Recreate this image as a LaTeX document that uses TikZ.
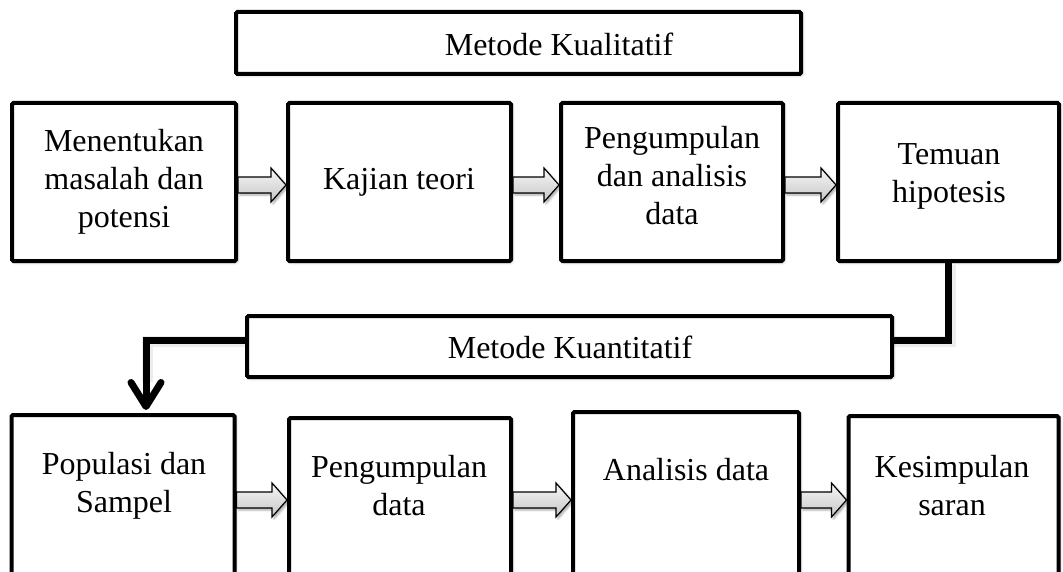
\documentclass[tikz,border=0pt]{standalone}
\usepackage{fontspec}
\setmainfont{Liberation Serif}
\usetikzlibrary{calc,shadows.blur,arrows.meta}

\tikzset{
  box/.style={draw, line width=4pt, rounded corners=1.5pt, fill=white,
    blur shadow={shadow xshift=1.5pt, shadow yshift=-1.5pt,
      shadow blur radius=2.5pt, shadow opacity=30}},
  lbl/.style={align=center, inner sep=0pt, font=\fontsize{32}{38}\selectfont},
  blockarr/.style={draw=black, line width=1.2pt, line join=miter,
    top color=gray!6, bottom color=gray!45,
    blur shadow={shadow xshift=2pt, shadow yshift=-2pt,
      shadow blur radius=2pt, shadow opacity=35}},
  flowline/.style={line width=7pt, line join=miter,
    -{Straight Barb[length=24pt, width=30pt, round]}},
  flowshade/.style={line width=11pt, line join=miter, draw=black,
    opacity=0.07},
}

% grey block arrow between two boxes along a given horizontal line
\newcommand\blockarrow[3]{%
  \coordinate (ba-s) at (#1.east |- #3);
  \coordinate (ba-e) at (#2.west |- #3);
  \path[blockarr] ($(ba-s)+(0,-8)$) -- ($(ba-e)+(-15,-8)$)
    -- ($(ba-e)+(-15,-17)$) -- (ba-e) -- ($(ba-e)+(-15,17)$)
    -- ($(ba-e)+(-15,8)$) -- ($(ba-s)+(0,8)$) -- cycle;
}

\begin{document}
\begin{tikzpicture}[x=1pt,y=-1pt]
\useasboundingbox (0,0) rectangle (1063,572);
\clip (0,0) rectangle (1063,572);

\coordinate (rowA) at (0,185);
\coordinate (rowB) at (0,500);
\coordinate (bend) at (146,340);

% qualitative stage
\node[box, minimum width=565pt, minimum height=62pt] (kual) at (518.5,43) {};
\node[box, minimum width=224pt, minimum height=158pt] (a1) at (124,182) {};
\node[box, minimum width=223pt, minimum height=158pt] (a2) at (399.5,182) {};
\node[box, minimum width=222pt, minimum height=158pt] (a3) at (672,182) {};
\node[box, minimum width=221pt, minimum height=158pt] (a4) at (948.5,182) {};

% link from the hypothesis down to the quantitative stage
\coordinate (drop) at (bend |- 0,413);
\draw[flowshade] ([xshift=1.5pt,yshift=-1.5pt]a4.south) |- ([xshift=1.5pt,yshift=-1.5pt]bend)
  -- ([xshift=1.5pt,yshift=-1.5pt]bend |- 0,380);
\draw[flowline, shorten >=3pt] (a4.south) |- (bend) -- (drop);

% quantitative stage
\node[box, minimum width=645pt, minimum height=61pt] (kuan) at (569.5,346.5) {};
\node[box, minimum width=223pt, minimum height=185pt] (b1) at (123,507.5) {};
\node[box, minimum width=222pt, minimum height=182pt] (b2) at (400,509) {};
\node[box, minimum width=226pt, minimum height=188pt] (b3) at (686,506) {};
\node[box, minimum width=210pt, minimum height=184pt] (b4) at (953.5,508) {};

\blockarrow{a1}{a2}{rowA}
\blockarrow{a2}{a3}{rowA}
\blockarrow{a3}{a4}{rowA}
\blockarrow{b1}{b2}{rowB}
\blockarrow{b2}{b3}{rowB}
\blockarrow{b3}{b4}{rowB}

% labels
\node[lbl] (tkual) at (559,44) {Metode Kualitatif};
\node[lbl] (ta1) at (124,182) {Menentukan\\masalah dan\\potensi};
\node[lbl] (ta2) at (399,182) {Kajian teori};
\node[lbl] (ta3) at (672,176) {Pengumpulan\\dan analisis\\data};
\node[lbl] (ta4) at (949,176) {Temuan\\hipotesis};
\node[lbl] (tkuan) at (570,347) {Metode Kuantitatif};
\node[lbl] (tb1) at (124,486) {Populasi dan\\Sampel};
\node[lbl] (tb2) at (399,486) {Pengumpulan\\data};
\node[lbl] (tb3) at (686,470) {Analisis data};
\node[lbl] (tb4) at (952,486) {Kesimpulan\\saran};
\end{tikzpicture}
\end{document}
